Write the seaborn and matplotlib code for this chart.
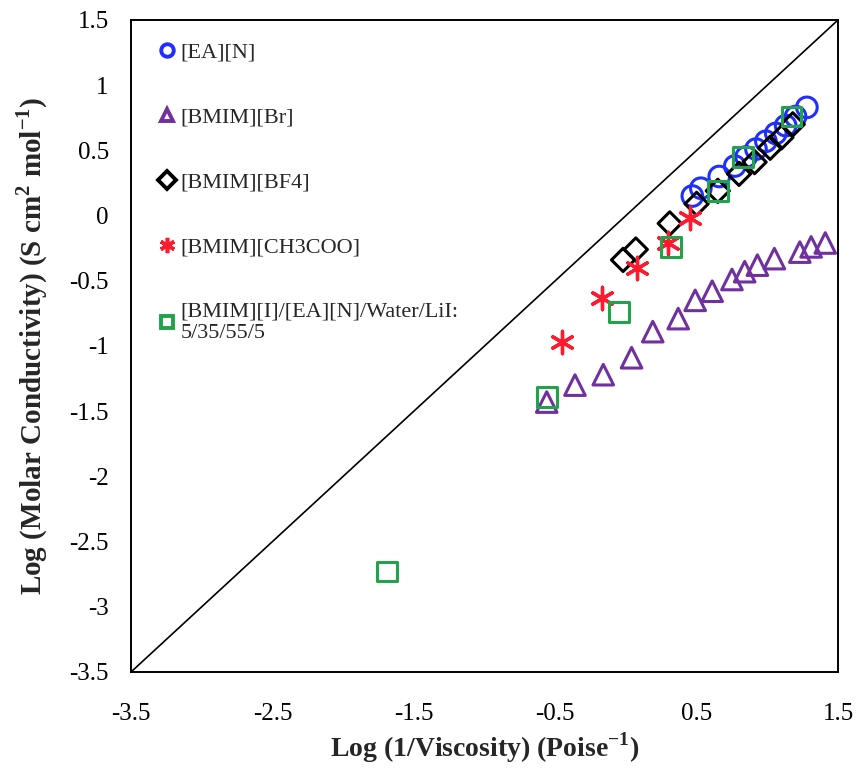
import numpy as np
import pandas as pd
import matplotlib
matplotlib.use("Agg")
import matplotlib.pyplot as plt
import seaborn as sns

# ---------------- data ----------------
ea_n_x = [0.47, 0.53, 0.66, 0.77, 0.85, 0.92, 0.99, 1.06, 1.13, 1.20, 1.28]
ea_n_y = [0.15, 0.21, 0.30, 0.38, 0.45, 0.51, 0.57, 0.63, 0.69, 0.76, 0.83]

br_x = [-0.56, -0.36, -0.16, 0.04, 0.19, 0.37, 0.49, 0.61, 0.75, 0.84, 0.93, 1.05, 1.23, 1.31, 1.41]
br_y = [-1.43, -1.30, -1.22, -1.09, -0.89, -0.79, -0.65, -0.58, -0.49, -0.43, -0.38, -0.33, -0.28, -0.24, -0.21]

bf4_x = [-0.02, 0.07, 0.31, 0.50, 0.65, 0.80, 0.91, 1.02, 1.10, 1.18]
bf4_y = [-0.34, -0.26, -0.06, 0.09, 0.19, 0.32, 0.41, 0.52, 0.60, 0.70]

ac_x = [-0.45, -0.17, 0.08, 0.30, 0.45]
ac_y = [-0.97, -0.63, -0.40, -0.21, -0.02]

mix_x = [-1.69, -0.56, -0.05, 0.32, 0.65, 0.83, 1.17]
mix_y = [-2.73, -1.39, -0.74, -0.24, 0.19, 0.45, 0.76]

labels = ["[EA][N]", "[BMIM][Br]", "[BMIM][BF4]", "[BMIM][CH3COO]",
          "[BMIM][I]/[EA][N]/Water/LiI:\n5/35/55/5"]

x_ticks = [-3.5, -2.5, -1.5, -0.5, 0.5, 1.5]
y_ticks = [1.5, 1, 0.5, 0, -0.5, -1, -1.5, -2, -2.5, -3, -3.5]

# ---------------- style ----------------
sns.set_theme(style="white")
plt.rcParams["font.family"] = ["Liberation Serif", "DejaVu Serif"]
plt.rcParams["mathtext.fontset"] = "custom"
plt.rcParams["mathtext.rm"] = "Liberation Serif"
plt.rcParams["mathtext.bf"] = "Liberation Serif:bold"

fig = plt.figure(figsize=(8.57, 7.72), dpi=100)
ax = fig.add_axes([131 / 857, 1 - 672 / 772, (838 - 131) / 857, (672 - 20) / 772])

# 1:1 line
ax.plot([-3.5, 1.5], [-3.5, 1.5], color="black", lw=1.2, zorder=1)

series = [
    (ea_n_x, ea_n_y, "o", "#1f2fff", 220, True, 2.2),
    (br_x, br_y, "^", "#7030a0", 220, True, 2.2),
    (bf4_x, bf4_y, "D", "#000000", 140, True, 2.2),
    (ac_x, ac_y, (6, 2, 0), "#ff1a2e", 260, False, 2.4),
    (mix_x, mix_y, "s", "#22a24a", 200, True, 2.2),
]

handles = []
for (xs, ys, mk, col, s, hollow, lw), lab in zip(series, labels):
    df = pd.DataFrame({"x": xs, "y": ys})
    if hollow:
        sns.scatterplot(data=df, x="x", y="y", ax=ax, marker=mk, s=s,
                        facecolors="none", edgecolor=col,
                        linewidth=lw, zorder=3)
        h = plt.Line2D([], [], ls="none", marker=mk, markersize=9,
                       markerfacecolor="none", markeredgecolor=col,
                       markeredgewidth=2.8, label=lab)
    else:
        sns.scatterplot(data=df, x="x", y="y", ax=ax, marker=mk, s=s,
                        color=col, linewidth=lw, zorder=3)
        h = plt.Line2D([], [], ls="none", marker=mk, markersize=11,
                       markerfacecolor="none", markeredgecolor=col,
                       markeredgewidth=2.6, label=lab)
    handles.append(h)

ax.set_xlim(-3.5, 1.5)
ax.set_ylim(-3.5, 1.5)
ax.set_xticks(x_ticks)
ax.set_xticks(np.arange(-3.0, 1.5, 1.0), minor=True)
ax.set_xticklabels([f"{v:g}" for v in x_ticks])
ax.set_yticks(y_ticks)
ax.set_yticklabels([f"{v:g}" for v in y_ticks])

ax.tick_params(axis="both", which="both", direction="in", length=6, width=1.2,
               labelsize=18, color="black", labelcolor="black")
ax.tick_params(axis="x", which="major", pad=22)
ax.tick_params(axis="y", which="major", pad=16)

for sp in ax.spines.values():
    sp.set_color("black")
    sp.set_linewidth(1.4)

ax.set_xlabel("Log (1/Viscosity) (Poise$^{\\mathbf{-1}}$)", fontsize=20,
              fontweight="bold", labelpad=4)
ax.set_ylabel("Log (Molar Conductivity) (S cm$^{\\mathbf{2}}$ mol$^{\\mathbf{-1}}$)",
              fontsize=21, fontweight="bold", labelpad=14)

ax.legend(handles=handles, loc="upper left", bbox_to_anchor=(0.02, 0.99),
          frameon=False, fontsize=16, labelspacing=2.0, handlelength=0.6,
          handletextpad=0.3, borderaxespad=0.3)

fig.savefig("out.png", dpi=100)
